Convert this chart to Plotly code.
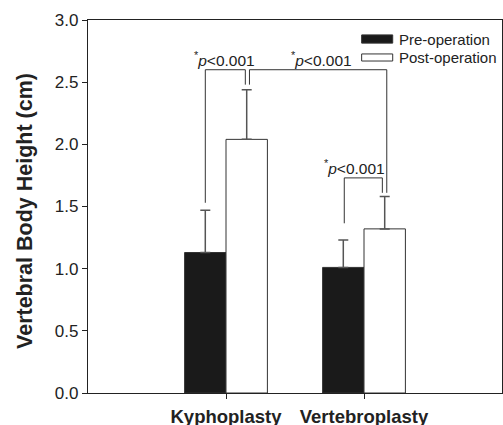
import plotly.graph_objects as go

categories = ["Kyphoplasty", "Vertebroplasty"]
pre_values = [1.13, 1.01]
pre_sd = [0.34, 0.22]
post_values = [2.04, 1.32]
post_sd = [0.40, 0.26]
y_ticks = [0.0, 0.5, 1.0, 1.5, 2.0, 2.5, 3.0]
series_names = ["Pre-operation", "Post-operation"]

FONT = "Liberation Sans, Arial, sans-serif"
x_pos = [0, 1]

fig = go.Figure()
fig.add_trace(go.Bar(
    x=x_pos, y=pre_values, name=series_names[0],
    marker=dict(color="#1a1a1a", line=dict(color="#333333", width=1)),
    error_y=dict(type="data", symmetric=False, array=pre_sd, arrayminus=[0, 0],
                 color="#555555", thickness=1.5, width=5),
    showlegend=False,
))
fig.add_trace(go.Bar(
    x=x_pos, y=post_values, name=series_names[1],
    marker=dict(color="#ffffff", line=dict(color="#333333", width=1)),
    error_y=dict(type="data", symmetric=False, array=post_sd, arrayminus=[0, 0],
                 color="#555555", thickness=1.5, width=5),
    showlegend=False,
))

# significance brackets (data coords)
brackets = [
    # x_left, x_right, y_top, y_left_bottom, y_right_bottom
    (-0.15, 0.14, 2.60, 1.53, 2.48),
    (0.17, 1.165, 2.60, 2.48, 1.61),
    (0.857, 1.133, 1.73, 1.365, 1.61),
]
for xl, xr, yt, ylb, yrb in brackets:
    fig.add_shape(type="path",
                  path=f"M {xl},{ylb} L {xl},{yt} L {xr},{yt} L {xr},{yrb}",
                  xref="x", yref="y", line=dict(color="#333333", width=1))

p_texts = [(-0.01, 2.60), (0.69, 2.60), (0.93, 1.73)]
ptxt = "<sup>*</sup><i>p</i>&lt;0.001"
for xt, yt in p_texts:
    fig.add_annotation(x=xt, y=yt, xref="x", yref="y", text=ptxt, showarrow=False,
                       xanchor="center", yanchor="bottom", yshift=-1,
                       font=dict(family=FONT, size=15.5, color="#222222"))

# manual legend
leg = [("#1a1a1a", 0.960, 0.938, 0.949), ("#ffffff", 0.909, 0.890, 0.899)]
for (fill, y0, y1, yt), name in zip(leg, series_names):
    fig.add_shape(type="rect", xref="paper", yref="paper", x0=0.661, x1=0.736,
                  y0=y1, y1=y0, fillcolor=fill, line=dict(color="#333333", width=1))
    fig.add_annotation(x=0.7457, y=yt, xref="paper", yref="paper", text=name,
                       showarrow=False, xanchor="left", yanchor="middle",
                       font=dict(family=FONT, size=15, color="#222222"))

# y title
fig.add_annotation(x=0, y=0.488, xref="paper", yref="paper", xshift=-63,
                   text="<b>Vertebral Body Height (cm)</b>", textangle=-90,
                   showarrow=False, xanchor="center", yanchor="middle",
                   font=dict(family=FONT, size=21.5, color="#222222"))

fig.update_layout(
    width=503, height=425,
    margin=dict(l=88, r=1, t=20, b=32, autoexpand=False),
    paper_bgcolor="white", plot_bgcolor="white",
    barmode="group", bargap=0.4, bargroupgap=0,
    font=dict(family=FONT, color="#222222"),
)
fig.update_xaxes(
    range=[-1, 2], tickvals=x_pos, ticktext=[f"<b>{c}</b>" for c in categories],
    ticks="outside", ticklen=5, tickcolor="#222222", tickwidth=1,
    ticklabelstandoff=2, automargin=False,
    showline=True, linecolor="#222222", linewidth=1.2, mirror=True,
    showgrid=False, zeroline=False,
    tickfont=dict(family=FONT, size=18.5, color="#222222"),
)
fig.update_yaxes(
    range=[0, 3], tickvals=y_ticks, tickformat=".1f", automargin=False,
    ticks="outside", ticklen=5, tickcolor="#222222", tickwidth=1,
    showline=True, linecolor="#222222", linewidth=1.2, mirror=True,
    showgrid=False, zeroline=False,
    tickfont=dict(family=FONT, size=17, color="#222222"),
)

fig.write_html("out.html", config={"displayModeBar": False},
               post_script="document.body.style.margin='0';document.body.style.overflow='hidden';")
